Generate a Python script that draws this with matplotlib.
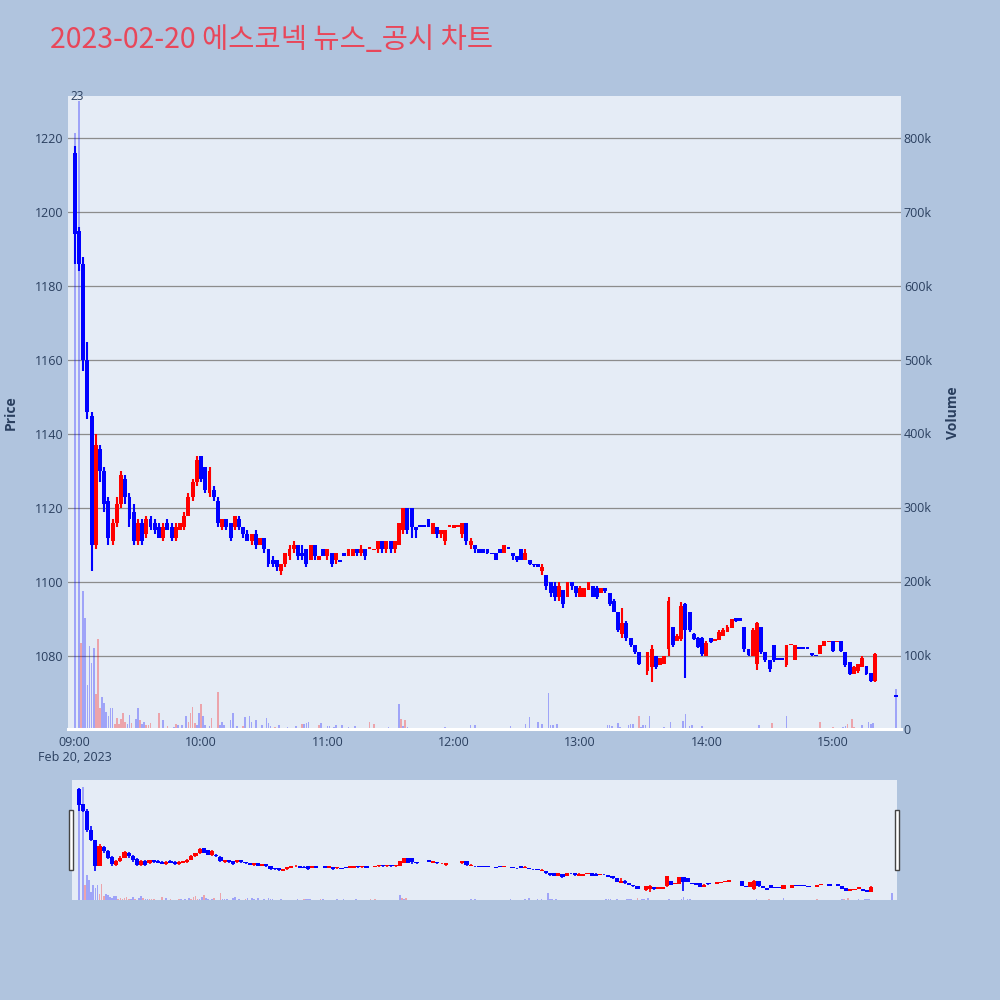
import matplotlib
matplotlib.use("Agg")
import matplotlib.pyplot as plt
from matplotlib.patches import Rectangle
from matplotlib.ticker import FuncFormatter

plt.rcParams['font.family'] = ['Open Sans', 'DejaVu Sans']

TITLE = "2023-02-20 에스코넥 뉴스_공시 차트"

# ---- 2-minute candles, minutes after 09:00 ----
candle_min = [0, 2, 4, 6, 8, 10, 12, 14, 16, 18,
              20, 22, 24, 26, 28, 30, 32, 34, 36, 38,
              40, 42, 44, 46, 48, 50, 52, 54, 56, 58,
              60, 62, 64, 66, 68, 70, 72, 74, 76, 78,
              80, 82, 84, 86, 88, 90, 92, 94, 96, 98,
              100, 102, 104, 106, 108, 110, 112, 114, 116, 118,
              120, 122, 124, 126, 128, 130, 132, 134, 136, 138,
              140, 142, 144, 146, 148, 150, 152, 154, 156, 158,
              160, 162, 164, 166, 168, 170, 172, 174, 176, 178,
              180, 182, 184, 186, 188, 190, 192, 194, 196, 198,
              200, 202, 204, 206, 208, 210, 212, 214, 216, 218,
              220, 222, 224, 226, 228, 230, 232, 234, 236, 238,
              240, 242, 244, 246, 248, 250, 252, 254, 256, 258,
              260, 262, 264, 266, 268, 272, 274, 276, 278, 280,
              282, 284, 286, 288, 290, 292, 294, 296, 298, 300,
              302, 304, 306, 308, 310, 312, 314, 316, 318, 320,
              322, 324, 326, 328, 330, 332, 334, 336, 338, 340,
              342, 344, 346, 348, 350, 352, 354, 356, 358, 360,
              362, 364, 366, 368, 370, 372, 374, 376, 378, 380,
              390]
candle_open = [1216, 1195, 1186, 1160, 1145, 1110, 1136, 1130, 1122, 1111,
               1116, 1121, 1128, 1123, 1119, 1111, 1116, 1113, 1117, 1116,
               1115, 1112, 1116, 1115, 1112, 1114, 1115, 1118, 1123, 1127,
               1134, 1131, 1124, 1125, 1122, 1115, 1117, 1116, 1115, 1117,
               1115, 1113, 1111, 1113, 1110, 1112, 1109, 1106, 1106, 1103,
               1105, 1107, 1109, 1110, 1108, 1109, 1106, 1110, 1106, 1109,
               1107, 1108, 1106, 1105.5, 1108, 1107, 1107, 1109, 1108, 1109,
               1109, 1108.6, 1109, 1111, 1109, 1111, 1109, 1110, 1114, 1120,
               1120, 1115, 1115, 1115, 1117, 1113, 1115, 1113, 1111, 1115,
               1114.7, 1115, 1113, 1116, 1110, 1110, 1109, 1109, 1109, 1107.5,
               1108, 1109, 1108, 1109, 1108, 1107, 1109, 1106, 1106, 1105,
               1105, 1103, 1102, 1100, 1099, 1096, 1098, 1096, 1100, 1099,
               1096, 1096, 1098, 1099, 1098.5, 1097, 1098.5, 1097, 1095, 1092,
               1086, 1089, 1085, 1083, 1081, 1076, 1077, 1080, 1077.5, 1078,
               1082, 1088, 1084, 1084.5, 1094, 1092, 1086, 1085, 1085, 1080,
               1085, 1084, 1084.3, 1085.5, 1086.6, 1087.5, 1090.3, 1090.3, 1088, 1082,
               1080, 1078, 1088, 1081, 1079, 1083, 1079, 1079, 1077.5, 1083,
               1079, 1082, 1082, 1082, 1080.8, 1080, 1080.5, 1082.6, 1083.8, 1084.2,
               1083.8, 1084, 1081.2, 1078.5, 1075.2, 1076, 1077.1, 1077.3, 1075.4, 1073.2,
               1069]
candle_high = [1218, 1196, 1188, 1165, 1146, 1140, 1137, 1131, 1123, 1117,
               1123, 1130, 1129, 1124, 1121, 1117, 1117, 1118, 1118, 1117,
               1116, 1116, 1117, 1116, 1116, 1116, 1119, 1124, 1128, 1134,
               1134, 1131, 1131, 1126, 1123, 1117, 1117, 1116, 1118, 1118,
               1115, 1114, 1113, 1114, 1112, 1112, 1109, 1107, 1106, 1105,
               1108, 1110, 1111, 1110, 1110, 1109, 1110, 1110, 1107, 1109,
               1109, 1108, 1108, 1105.5, 1108, 1109, 1109, 1109, 1110, 1109,
               1109.5, 1108.8, 1111, 1111, 1111, 1111, 1111, 1116, 1120, 1120,
               1120, 1115, 1115, 1115, 1117, 1116, 1115, 1114, 1114, 1115.2,
               1115.4, 1115.2, 1116, 1116, 1112, 1110, 1109, 1109, 1109, 1107.5,
               1108, 1109, 1110, 1109, 1108, 1107, 1109, 1109, 1106, 1105,
               1105, 1105, 1102, 1100, 1100, 1100, 1098, 1100, 1100, 1099,
               1099, 1098.5, 1100, 1099, 1099, 1098.5, 1098.5, 1097, 1095.5, 1092,
               1093, 1089.6, 1085, 1083, 1081, 1081, 1083, 1080, 1079.5, 1080,
               1096, 1088, 1086, 1094.7, 1094.3, 1092, 1086.2, 1085.2, 1085.2, 1084,
               1085, 1084.5, 1087, 1087.5, 1088.5, 1090, 1090.3, 1090.3, 1088, 1082,
               1087.6, 1089.3, 1088, 1081.2, 1079, 1083, 1079, 1079, 1083, 1083.2,
               1083, 1082, 1082, 1082, 1080.8, 1080, 1083, 1084, 1084.2, 1084.2,
               1084.2, 1084, 1081.2, 1078.5, 1077.3, 1078, 1080, 1077.3, 1075.4, 1080.8,
               1069]
candle_low = [1186, 1184, 1157, 1144, 1103, 1109, 1127, 1119, 1110, 1110,
              1115, 1120, 1121, 1115, 1110, 1110, 1110, 1112, 1114, 1113,
              1112, 1111, 1114, 1111, 1111, 1114, 1114, 1118, 1122, 1126,
              1127, 1124, 1123, 1122, 1115, 1114, 1114, 1111, 1114, 1114,
              1112, 1111, 1110, 1109, 1110, 1108, 1104, 1104, 1103, 1102,
              1104, 1106, 1108, 1106, 1106, 1104, 1106, 1106, 1106, 1107,
              1106, 1104, 1105, 1105.5, 1107, 1107, 1107, 1107, 1107, 1106,
              1109, 1108.6, 1108, 1108, 1108, 1108, 1108, 1110, 1113, 1113,
              1112, 1112, 1115, 1115, 1115, 1113, 1112, 1112, 1110, 1115,
              1114.7, 1115, 1112, 1110, 1109, 1108, 1108, 1108, 1107.5, 1107.5,
              1106, 1108, 1108, 1109, 1106, 1105.5, 1106, 1106, 1104.5, 1104,
              1104, 1102, 1098, 1096, 1095, 1095, 1093, 1096, 1098, 1096,
              1096, 1096, 1098, 1096, 1095.5, 1097, 1097, 1093.5, 1091.8, 1086.5,
              1085, 1084, 1082.5, 1080.5, 1077.6, 1075, 1073, 1076.5, 1077.5, 1078,
              1080, 1082.5, 1084, 1084, 1074, 1086.5, 1084.3, 1082.3, 1080, 1080,
              1083.5, 1084, 1084.3, 1085.5, 1086.6, 1087.5, 1089.3, 1089.4, 1081.2, 1080,
              1080, 1076.2, 1080.7, 1078.5, 1075.8, 1078.5, 1079, 1079, 1077.1, 1083,
              1079, 1082, 1082, 1082, 1080, 1080, 1080.5, 1082.6, 1083.8, 1081.2,
              1083.8, 1081.2, 1077.1, 1074.9, 1075.2, 1075.5, 1077.1, 1074.9, 1073, 1073,
              1069]
candle_close = [1194, 1186, 1160, 1146, 1110, 1137, 1130, 1121, 1112, 1116,
                1121, 1129, 1123, 1117, 1111, 1116, 1111, 1117, 1115, 1114,
                1112, 1115, 1114, 1112, 1115, 1116, 1118, 1123, 1127, 1133,
                1128, 1125, 1130, 1123, 1116, 1117, 1115, 1112, 1118, 1115,
                1113, 1111, 1113, 1110, 1112, 1109, 1105, 1105, 1104, 1105,
                1108, 1109, 1110, 1107, 1107, 1105, 1110, 1107, 1107, 1107,
                1109, 1105, 1108, 1105.5, 1107, 1109, 1109, 1108, 1109, 1107,
                1109.5, 1108.8, 1111, 1109, 1111, 1109, 1111, 1116, 1120, 1114,
                1115, 1114, 1115, 1115, 1115, 1116, 1113, 1114, 1114, 1115.2,
                1115.4, 1115.2, 1116, 1111, 1111, 1109, 1108, 1108, 1108, 1107.5,
                1106, 1108, 1110, 1109, 1107, 1106, 1106, 1108, 1105, 1104.5,
                1104, 1104, 1099, 1097, 1096, 1099, 1094, 1100, 1099, 1097,
                1098.5, 1098.5, 1100, 1096, 1096, 1098.5, 1097.5, 1094, 1092, 1087,
                1089, 1085, 1083, 1081, 1078, 1081, 1082, 1077, 1079.4, 1080,
                1095, 1083, 1085.5, 1093.5, 1087, 1087, 1084.5, 1082.5, 1080.5, 1083.5,
                1083.8, 1084.5, 1086.5, 1087, 1088, 1090, 1089.4, 1089.5, 1082, 1080.3,
                1087, 1089, 1081, 1079, 1076.5, 1079, 1079, 1079, 1083, 1083.2,
                1083, 1082, 1082, 1082, 1080.2, 1080, 1083, 1084, 1084.2, 1081.5,
                1084.2, 1081.5, 1077.5, 1075.2, 1077, 1078, 1079.5, 1075.2, 1073.3, 1080.5,
                1069]

# ---- per-minute volume (thousand shares), 'u' = up minute, 'd' = down ----
vol_min = [0, 2, 3, 4, 5, 6, 7, 8, 9, 10, 11, 12, 13, 14, 15, 16, 17, 18, 19, 20,
           21, 22, 23, 24, 25, 26, 27, 29, 30, 31, 32, 33, 34, 35, 36, 37, 40, 42, 44, 47,
           48, 49, 51, 53, 54, 55, 56, 57, 58, 59, 60, 61, 62, 64, 65, 68, 69, 70, 71, 74,
           75, 77, 80, 81, 83, 84, 86, 89, 91, 92, 93, 95, 97, 101, 103, 105, 108, 109, 110, 111,
           116, 117, 120, 121, 123, 124, 127, 130, 133, 136, 140, 142, 145, 149, 154, 155, 156, 157, 158, 162,
           167, 176, 188, 190, 198, 207, 210, 214, 216, 218, 220, 222, 225, 226, 227, 228, 229, 232, 247, 253,
           254, 255, 258, 259, 263, 264, 265, 267, 268, 269, 270, 271, 273, 275, 280, 282, 283, 285, 287, 288,
           289, 290, 292, 293, 294, 296, 298, 302, 304, 320, 323, 324, 325, 330, 331, 338, 342, 344, 352, 353,
           354, 356, 357, 360, 362, 365, 366, 367, 369, 370, 374, 377, 378, 379, 390]
vol_k = [807, 850, 116, 187, 150, 59, 112, 89, 109, 48, 122, 29, 43, 35, 23, 17, 28, 28, 7, 15,
         7, 14, 21, 10, 7, 19, 8, 14, 29, 12, 7, 9, 6, 6, 8, 2, 21, 12, 4, 3,
         7, 6, 5, 18, 10, 21, 30, 8, 5, 22, 34, 18, 6, 4.5, 15, 50, 6, 9, 5, 12,
         22, 4, 4, 16, 18, 9, 12, 6, 15, 8, 4, 3, 5, 3, 2, 4, 7, 7, 8, 9,
         5, 8, 3.5, 3.5, 2.5, 6, 5, 2.5, 4, 2, 10, 7, 2, 3, 34, 13, 4, 12, 3, 2,
         1, 3, 6, 5, 2, 4, 2, 7, 16, 2, 9, 7, 49, 5, 5, 2, 7, 2, 1, 5,
         5, 4, 8, 3, 6, 7, 7, 2, 17, 3, 6, 6, 18, 2, 3, 2, 10, 2, 2, 2,
         11, 20, 4, 6, 2, 2, 3.6, 1, 1, 1, 2, 2, 6, 2, 8, 18, 1, 1, 1, 2,
         9, 2, 1, 3, 2, 2.5, 4, 7, 13, 3, 5, 9, 7, 7.5, 54]
vol_dir = list("ddudddddduuudddddduuuuuudduddudduuuuudud"
               "uddduuuudduddduuddddd"
               "dudddddddduddddudddudddddddduuuudd"
               "ududddddddddddudddddu"
               "dddddddddddduddddddd"
               "duuudddddddddudu"
               "ddudduuuudduddduuuddddddu"
               "ddddd")

PRICE_TICKS = [1080, 1100, 1120, 1140, 1160, 1180, 1200, 1220]
VOL_TICKS = [0, 100, 200, 300, 400, 500, 600, 700, 800]
HOUR_TICKS = [0, 60, 120, 180, 240, 300, 360]
HOUR_LABELS = ["09:00\nFeb 20, 2023", "10:00", "11:00", "12:00", "13:00", "14:00", "15:00"]

UP, DOWN = "#FF0000", "#0000FF"
TXT = "#2a3f5f"
PAPER = "#B0C4DE"
PLOT_BG = "#E5ECF6"
XLIM = (-3.2, 392.4)


def draw_candles(ax, wick_lw, body_w):
    cols = [UP if c > o else DOWN for o, c in zip(candle_open, candle_close)]
    ax.vlines(candle_min, candle_low, candle_high, colors=cols, lw=wick_lw, zorder=3)
    bottoms = [min(o, c) for o, c in zip(candle_open, candle_close)]
    heights = [max(abs(c - o), 0.4) for o, c in zip(candle_open, candle_close)]
    ax.bar(candle_min, heights, bottom=bottoms, width=body_w, color=cols,
           linewidth=0, zorder=3)


def draw_volume(ax, width):
    vols = [v * 1000 for v in vol_k]
    n = min(len(vols), len(vol_min))
    cols = [(UP if d == "u" else DOWN) for d in (vol_dir + ["d"] * n)[:n]]
    ax.bar(vol_min[:n], vols[:n], width=width, color=cols, alpha=0.3, linewidth=0)


fig = plt.figure(figsize=(10, 10), dpi=100, facecolor=PAPER)

# ----- main panel -----
ax = fig.add_axes([0.068, 0.271, 0.833, 0.633])
ax.set_facecolor(PLOT_BG)
ax.set_xlim(*XLIM)
ax.set_ylim(1060.3, 1231.4)
ax.set_yticks(PRICE_TICKS)
ax.set_xticks(HOUR_TICKS)
ax.set_xticklabels(HOUR_LABELS)
ax.grid(axis="y", color="#8c8c8c", lw=0.9)
ax.set_axisbelow(True)
for s in ax.spines.values():
    s.set_visible(False)
ax.tick_params(axis="y", length=0, pad=3, labelsize=9, labelcolor=TXT)
ax.tick_params(axis="x", length=0, pad=5, labelsize=9, labelcolor=TXT)
draw_candles(ax, wick_lw=1.5, body_w=1.85)

axv = ax.twinx()
axv.set_ylim(0, 856.8e3)
axv.set_yticks([v * 1000 for v in VOL_TICKS])
axv.yaxis.set_major_formatter(FuncFormatter(lambda v, p: "0" if v == 0 else f"{v/1000:.0f}k"))
for s in axv.spines.values():
    s.set_visible(False)
axv.tick_params(axis="y", length=0, pad=2, labelsize=9, labelcolor=TXT)
draw_volume(axv, width=0.8)
axv.axhline(0, color="white", lw=2.2, clip_on=False)

# news markers (2, 3) at the top edge, drawn nearly on top of each other
ax.text(1.0, 1231.4, "23", ha="center", va="center", fontsize=8.5, color=TXT)

fig.text(0.011, 0.5875, "Price", rotation=90, ha="center", va="center",
         fontsize=10, fontweight="bold", color=TXT)
fig.text(0.953, 0.5875, "Volume", rotation=90, ha="center", va="center",
         fontsize=10, fontweight="bold", color=TXT)
fig.text(0.05, 0.960, TITLE, ha="left", va="center", fontsize=20.5,
         color="#E8475A", family=["Noto Sans CJK KR", "DejaVu Sans"])

# ----- range slider -----
rs = fig.add_axes([0.072, 0.100, 0.825, 0.120])
rs.set_facecolor(PLOT_BG)
rs.set_xlim(*XLIM)
rs.set_ylim(1062, 1229)
rs.set_xticks([]); rs.set_yticks([])
for s in rs.spines.values():
    s.set_visible(False)
draw_candles(rs, wick_lw=1.2, body_w=2.0)
rsv = rs.twinx()
rsv.set_ylim(0, 900e3)
rsv.set_yticks([])
for s in rsv.spines.values():
    s.set_visible(False)
draw_volume(rsv, width=0.8)

for x0 in (0.0693, 0.8953):
    fig.patches.append(Rectangle((x0, 0.130), 0.004, 0.060, transform=fig.transFigure,
                                 facecolor="white", edgecolor="#444444", lw=1.0))

fig.savefig("out.png", dpi=100, facecolor=PAPER)
